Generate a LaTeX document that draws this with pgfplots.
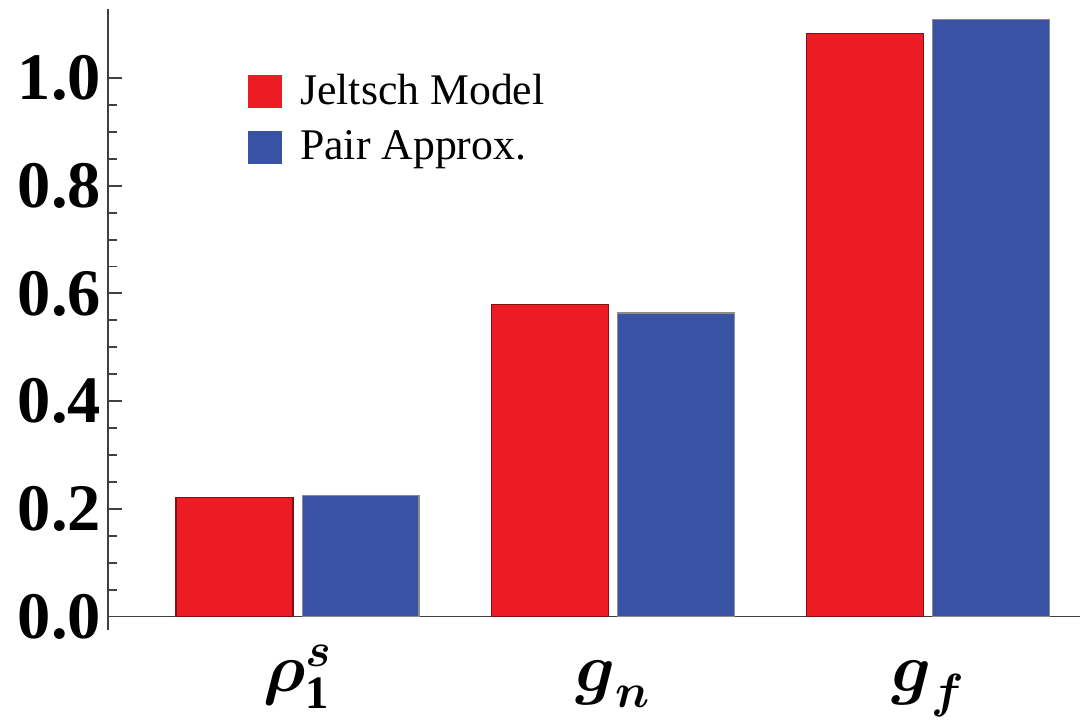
\documentclass[border=0pt]{standalone}
\usepackage{amsmath}
\usepackage{pgfplots}
\pgfplotsset{compat=1.18}
\usepackage{fontspec}
\setmainfont{Liberation Serif}
\definecolor{jred}{HTML}{ED1C24}
\definecolor{jblue}{HTML}{3953A4}
\begin{document}
\begin{tikzpicture}
\begin{axis}[
  name=ax,
  scale only axis,
  width=351pt, height=224pt,
  xmin=-0.602, xmax=2.482,
  ymin=-0.0241, ymax=1.128,
  enlargelimits=false,
  axis y line*=left,
  axis x line*=middle,
  axis line style={black!75, line width=0.7pt},
  ytick={0,0.2,0.4,0.6,0.8,1.0},
  minor y tick num=3,
  tick style={black!75, line width=0.7pt},
  tick align=inside,
  major tick length=5pt,
  minor tick length=3.2pt,
  xtick={0,1,2},
  xticklabels={$\boldsymbol{\rho}^{\boldsymbol{s}}_{\mathbf{1}}$,
               $\boldsymbol{g}_{\boldsymbol{n}}$,
               $\boldsymbol{g}_{\boldsymbol{f}}$},
  x tick style={draw=none},
  xticklabel style={anchor=base, yshift=-22pt, font=\fontsize{24}{24}\selectfont},
  yticklabel style={font=\fontsize{24}{24}\selectfont\bfseries, xshift=1pt},
  /pgf/number format/assume math mode=true,
  yticklabel={\pgfmathprintnumber[fixed, fixed zerofill, precision=1]{\tick}},
  ybar, bar width=0.371,
  legend style={draw=none, fill=none, at={(rel axis cs:0.144,0.905)}, anchor=north west,
    font=\fontsize{15.8}{15.8}\selectfont, row sep=4pt, inner sep=0pt,
    nodes={inner xsep=6.5pt}},
  legend image code/.code={\fill[#1, draw=none] (0pt,-6pt) rectangle (12.2pt,6pt);},
  legend cell align=left,
]
\addplot[fill=jred, draw=black!45!jred, line width=0.5pt, bar shift=-0.2]
  coordinates {(0,0.221) (1,0.579) (2,1.083)};
\addplot[fill=jblue, draw=black!45, line width=0.5pt, bar shift=0.2]
  coordinates {(0,0.2245) (1,0.564) (2,1.109)};
\legend{Jeltsch Model, Pair Approx.}
\end{axis}
\path (ax.south west) ++(-38.96pt,-28.86pt) rectangle ++(390pt,256.15pt);
\end{tikzpicture}
\end{document}
